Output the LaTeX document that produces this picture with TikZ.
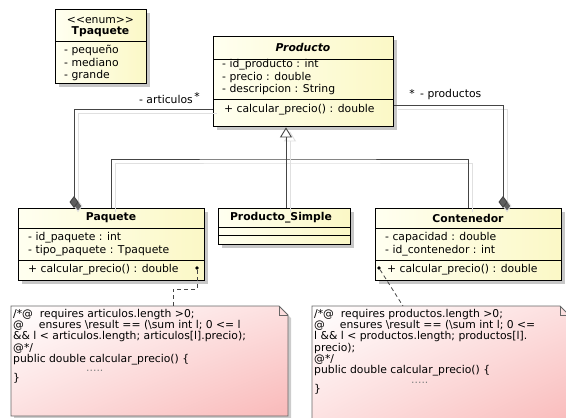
\documentclass[tikz,border=0pt]{standalone}
\usepackage{fontspec}
\newfontfamily\umlf{DejaVu Sans}
\usetikzlibrary{arrows.meta,shadows,shadings}
\definecolor{clsfill}{HTML}{FBF8C6}
\definecolor{clslite}{HTML}{FFFFF0}
\definecolor{notepink}{HTML}{F9B9B9}
\definecolor{connline}{HTML}{454545}
\definecolor{diamondgray}{HTML}{5E5E5E}
\tikzset{
  classbox/.style={draw=black, line width=1.4pt, left color=clslite, right color=clsfill,
    anchor=north west, inner sep=0pt,
    drop shadow={shadow xshift=3pt, shadow yshift=-3pt, fill=black, opacity=0.22}},
  sepline/.style={draw=black, line width=0.8pt},
  umltext/.style={font=\umlf\fontsize{10.8}{12.5}\selectfont, inner sep=0pt, align=left, anchor=west},
  umltitle/.style={font=\umlf\bfseries\fontsize{10.8}{12.5}\selectfont, inner sep=0pt},
  notebox/.style={draw=black!60, line width=0.8pt, upper left=white, lower right=notepink,
    upper right=notepink!45, lower left=notepink!45,
    drop shadow={shadow xshift=3pt, shadow yshift=-3pt, fill=black, opacity=0.2}},
  notetext/.style={font=\umlf\fontsize{10.8}{9.6}\selectfont, inner sep=0pt, align=left, anchor=north west},
  conn/.style={draw=connline, line width=0.9pt,
    preaction={draw=black!12, line width=0.9pt, transform canvas={shift={(4pt,-4pt)}}}},
  aggr/.style={conn, {Diamond[length=12pt, width=9pt, fill=diamondgray]}-},
  gen/.style={conn, -{Triangle[length=10pt, width=12pt, fill=white]}},
  notelink/.style={draw=connline, line width=0.8pt, dash pattern=on 4pt off 3pt},
  anchordot/.style={circle, fill=black, inner sep=0pt, minimum size=3.6pt}
}
\begin{document}
\begin{tikzpicture}[x=1pt, y=-1pt]
\path[use as bounding box, fill=white] (0,0) rectangle (566,418);
\clip (0,0) rectangle (566,418);

% enumeration
\node[classbox, minimum width=91pt, minimum height=74pt] (tpaq) at (55,9) {};
\draw[sepline] (tpaq.west |- 0,41) -- (tpaq.east |- 0,41);
\node[umltext, anchor=center] (enumtag) at (100.5,20) {<<enum>>};
\node[umltitle] (tpname) at (100.5,32) {Tpaquete};
\node[umltext] (tpitems) at (64,63) {- pequeño\\- mediano\\- grande};

% superclass
\node[classbox, minimum width=180pt, minimum height=90pt] (prod) at (213,36) {};
\draw[sepline] (prod.west |- 0,59) -- (prod.east |- 0,59);
\draw[sepline] (prod.west |- 0,99) -- (prod.east |- 0,99);
\node[umltitle, font=\umlf\bfseries\itshape\fontsize{10.8}{12.5}\selectfont] (prodname) at (303,47) {Producto};
\node[umltext] (prodattr) at (222,77.5) {- id\_producto : int\\- precio : double\\- descripcion : String};
\node[umltext] (prodop) at (224,109.5) {+ calcular\_precio() : double};

% subclasses
\node[classbox, minimum width=186pt, minimum height=72pt] (paq) at (18,208) {};
\draw[sepline] (paq.west |- 0,228) -- (paq.east |- 0,228);
\draw[sepline] (paq.west |- 0,260) -- (paq.east |- 0,260);
\node[umltitle] (paqname) at (111,218) {Paquete};
\node[umltext] (paqattr) at (28,244) {- id\_paquete : int\\- tipo\_paquete : Tpaquete};
\node[umltext] (paqop) at (28,269.5) {+ calcular\_precio() : double};

\node[classbox, minimum width=132pt, minimum height=36pt] (simple) at (218,208) {};
\draw[sepline] (simple.west |- 0,227) -- (simple.east |- 0,227);
\draw[sepline] (simple.west |- 0,235) -- (simple.east |- 0,235);
\node[umltitle] (simplename) at (281,218) {Producto\_Simple};

\node[classbox, minimum width=186pt, minimum height=72pt] (cont) at (375,208) {};
\draw[sepline] (cont.west |- 0,228) -- (cont.east |- 0,228);
\draw[sepline] (cont.west |- 0,260) -- (cont.east |- 0,260);
\node[umltitle] (contname) at (468,218) {Contenedor};
\node[umltext] (contattr) at (385,244) {- capacidad : double\\- id\_contenedor : int};
\node[umltext] (contop) at (387,269.5) {+ calcular\_precio() : double};

% generalization
\coordinate (genhub) at (286,159);
\draw[conn] (paq.north) |- (genhub) -| (cont.north);
\draw[conn] (simple.north -| genhub) -- (genhub);
\draw[gen] (genhub) -- (genhub |- prod.south);

% aggregations
\draw[aggr] (paq.north -| 74,0) |- (prod.west |- 0,109);
\draw[aggr] (cont.north -| 503,0) |- (prod.east |- 0,105);
\node[umltext, anchor=east] (artlabel) at (193,99) {- articulos};
\node[umltext, anchor=center] (artmult) at (197,96) {*};
\node[umltext, anchor=center] (prdmult) at (412,93) {*};
\node[umltext] (prdlabel) at (420,95) {- productos};

% notes
\path[notebox] (11,306) -- (279,306) -- (288,315) -- (288,416) -- (11,416) -- cycle;
\draw[draw=black!60, line width=0.8pt] (279,306) -- (279,315) -- (288,315);
\node[notetext] (notepaq) at (13,309) {/*@\ \ requires articulos.length >0;\\
@\hspace{15pt}ensures \textbackslash result == (\textbackslash sum int l; 0 <= l\\
\&\& l < articulos.length; articulos[l].precio);\\
@*/\\
public double calcular\_precio() \{\\
\hspace{73pt}{\color{black!50}.....}\\
\}};
\path[notebox] (312,306) -- (560,306) -- (569,315) -- (569,430) -- (312,430) -- cycle;
\draw[draw=black!60, line width=0.8pt] (560,306) -- (560,315) -- (569,315);
\node[notetext] (notecont) at (314,309) {/*@\ \ requires productos.length >0;\\
@\hspace{15pt}ensures \textbackslash result == (\textbackslash sum int l; 0 <=\\
l \&\& l < productos.length; productos[l].\\
precio);\\
@*/\\
public double calcular\_precio() \{\\
\hspace{97pt}{\color{black!50}.....}\\
\}};

% note links
\node[anchordot] (pinpaq) at (197,268) {};
\node[anchordot] (pincont) at (379,268) {};
\coordinate (notepaqin) at (173,306);
\coordinate (notecontin) at (403,306);
\draw[notelink] (pinpaq) |- (notepaqin |- 0,289) -- (notepaqin);
\draw[notelink] (pincont) -- (notecontin);
\end{tikzpicture}
\end{document}
